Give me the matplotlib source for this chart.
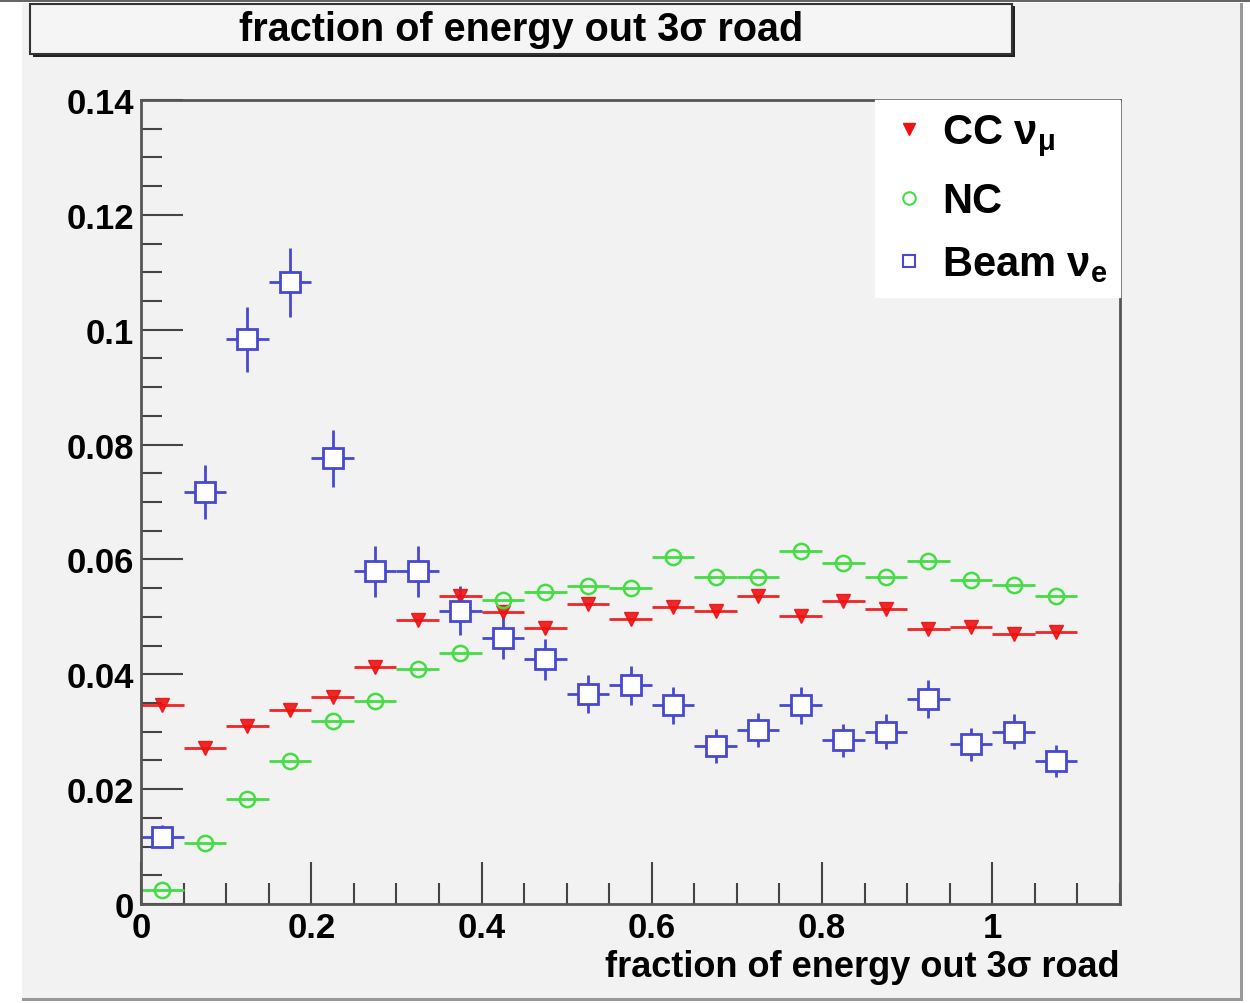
import numpy as np
import matplotlib.pyplot as plt
from matplotlib.patches import Rectangle
from matplotlib.lines import Line2D
from matplotlib.ticker import MultipleLocator

# bin centres (width 0.05)
x_centres = [0.025, 0.075, 0.125, 0.175, 0.225, 0.275, 0.325, 0.375, 0.425, 0.475, 0.525,
             0.575, 0.625, 0.675, 0.725, 0.775, 0.825, 0.875, 0.925, 0.975, 1.025, 1.075]
half_bin = 0.025

cc_numu = [0.0346, 0.0271, 0.0310, 0.0337, 0.0360, 0.0412, 0.0494, 0.0536, 0.0508, 0.0480, 0.0523,
           0.0497, 0.0517, 0.0510, 0.0536, 0.0501, 0.0527, 0.0513, 0.0478, 0.0482, 0.0471, 0.0473]
nc = [0.0024, 0.0106, 0.0183, 0.0249, 0.0318, 0.0353, 0.0409, 0.0437, 0.0529, 0.0543, 0.0553,
      0.0550, 0.0605, 0.0570, 0.0569, 0.0614, 0.0593, 0.0570, 0.0598, 0.0565, 0.0555, 0.0537]
beam_nue = [0.0117, 0.0717, 0.0983, 0.1083, 0.0776, 0.0579, 0.0579, 0.0511, 0.0464, 0.0426, 0.0365,
            0.0381, 0.0346, 0.0275, 0.0303, 0.0346, 0.0285, 0.0300, 0.0357, 0.0278, 0.0300, 0.0249]
beam_nue_err = [0.0020, 0.0047, 0.0057, 0.0060, 0.0050, 0.0045, 0.0045, 0.0042, 0.0038, 0.0036, 0.0033,
                0.0034, 0.0032, 0.0029, 0.0030, 0.0032, 0.0029, 0.0030, 0.0033, 0.0029, 0.0030, 0.0028]

titulo = "fraction of energy out 3σ road"
bg = '#f2f2f2'
vermelho, verde, azul = '#ee1111', '#44dd44', '#4848d0'

plt.rcParams['font.family'] = ['Liberation Sans', 'DejaVu Sans']
plt.rcParams['font.weight'] = 'bold'
plt.rcParams['mathtext.default'] = 'regular'

fig = plt.figure(figsize=(12.5, 10.04), dpi=100, facecolor='white')

# fundo do canvas + bordas
fig.patches.append(Rectangle((22/1250, 4/1004), 1220/1250, 996/1004, transform=fig.transFigure,
                             facecolor=bg, edgecolor='none', zorder=-10))
fig.patches.append(Rectangle((0, 1 - 3/1004), 1, 3/1004, transform=fig.transFigure,
                             facecolor='#666666', edgecolor='none', zorder=-9))
fig.patches.append(Rectangle((1240/1250, 4/1004), 3/1250, 996/1004, transform=fig.transFigure,
                             facecolor='#999999', edgecolor='none', zorder=-9))
fig.patches.append(Rectangle((22/1250, 2/1004), 1221/1250, 3/1004, transform=fig.transFigure,
                             facecolor='#999999', edgecolor='none', zorder=-9))

# caixa do titulo com sombra
fig.patches.append(Rectangle((33/1250, 1 - 58/1004), 982/1250, 51/1004, transform=fig.transFigure,
                             facecolor='#222222', edgecolor='none', zorder=1))
fig.patches.append(Rectangle((30/1250, 1 - 55/1004), 982/1250, 50/1004, transform=fig.transFigure,
                             facecolor='#f5f5f5', edgecolor='#333333', linewidth=1.5, zorder=2))
fig.text(521/1250, 1 - 30/1004, titulo, ha='center', va='center', fontsize=28.5,
         fontweight='bold', zorder=3)

ax = fig.add_axes([141/1250, 99/1004, 979/1250, 804/1004])
ax.set_facecolor(bg)
ax.set_xlim(0, 1.15)
ax.set_ylim(0, 0.14)

ax.errorbar(x_centres, cc_numu, xerr=half_bin, fmt='v', color=vermelho, mfc=vermelho, mec=vermelho,
            ms=10, elinewidth=2, capsize=0, alpha=0.9)
ax.errorbar(x_centres, nc, xerr=half_bin, fmt='o', color=verde, mfc='none', mec=verde,
            ms=11, mew=1.8, elinewidth=2, capsize=0)
ax.errorbar(x_centres, beam_nue, xerr=half_bin, yerr=beam_nue_err, fmt='s', color=azul,
            mfc='white', mec=azul, ms=15, mew=2, elinewidth=2, capsize=0)

# ticks estilo ROOT
ax.xaxis.set_major_locator(MultipleLocator(0.2))
ax.xaxis.set_minor_locator(MultipleLocator(0.05))
ax.yaxis.set_major_locator(MultipleLocator(0.02))
ax.yaxis.set_minor_locator(MultipleLocator(0.005))
ax.tick_params(which='both', direction='in', top=False, right=False, colors='#444444',
               labelcolor='black', labelsize=25, width=1.5)
ax.tick_params(which='major', length=30, pad=5)
ax.tick_params(which='minor', length=15)
ax.set_xticks([0, 0.2, 0.4, 0.6, 0.8, 1.0])
ax.set_xticklabels(['0', '0.2', '0.4', '0.6', '0.8', '1'])
ax.set_yticks([0, 0.02, 0.04, 0.06, 0.08, 0.1, 0.12, 0.14])
ax.set_yticklabels(['0', '0.02', '0.04', '0.06', '0.08', '0.1', '0.12', '0.14'])
for lbl in ax.get_xticklabels() + ax.get_yticklabels():
    lbl.set_fontweight('bold')
for s in ax.spines.values():
    s.set_color('#555555')
    s.set_linewidth(2)

ax.set_xlabel(titulo, fontsize=26, fontweight='bold', loc='right', labelpad=4)

# legenda so com marcadores
alcas = [Line2D([], [], ls='none', marker='v', ms=9, mfc=vermelho, mec=vermelho),
         Line2D([], [], ls='none', marker='o', ms=9, mfc='none', mec=verde, mew=1.5),
         Line2D([], [], ls='none', marker='s', ms=9, mfc='white', mec=azul, mew=1.5)]
nomes = [r'CC $\nu_{\mu}$', 'NC', r'Beam $\nu_{e}$']
leg = ax.legend(alcas, nomes, loc='upper right', fontsize=30, frameon=True, fancybox=False,
                framealpha=1, borderaxespad=0, handletextpad=0.3, handlelength=1.0,
                labelspacing=0.55, borderpad=0.3)
leg.get_frame().set_facecolor('white')
leg.get_frame().set_edgecolor('white')
for t in leg.get_texts():
    t.set_fontweight('bold')

plt.savefig('out.png', dpi=100, facecolor='white')
